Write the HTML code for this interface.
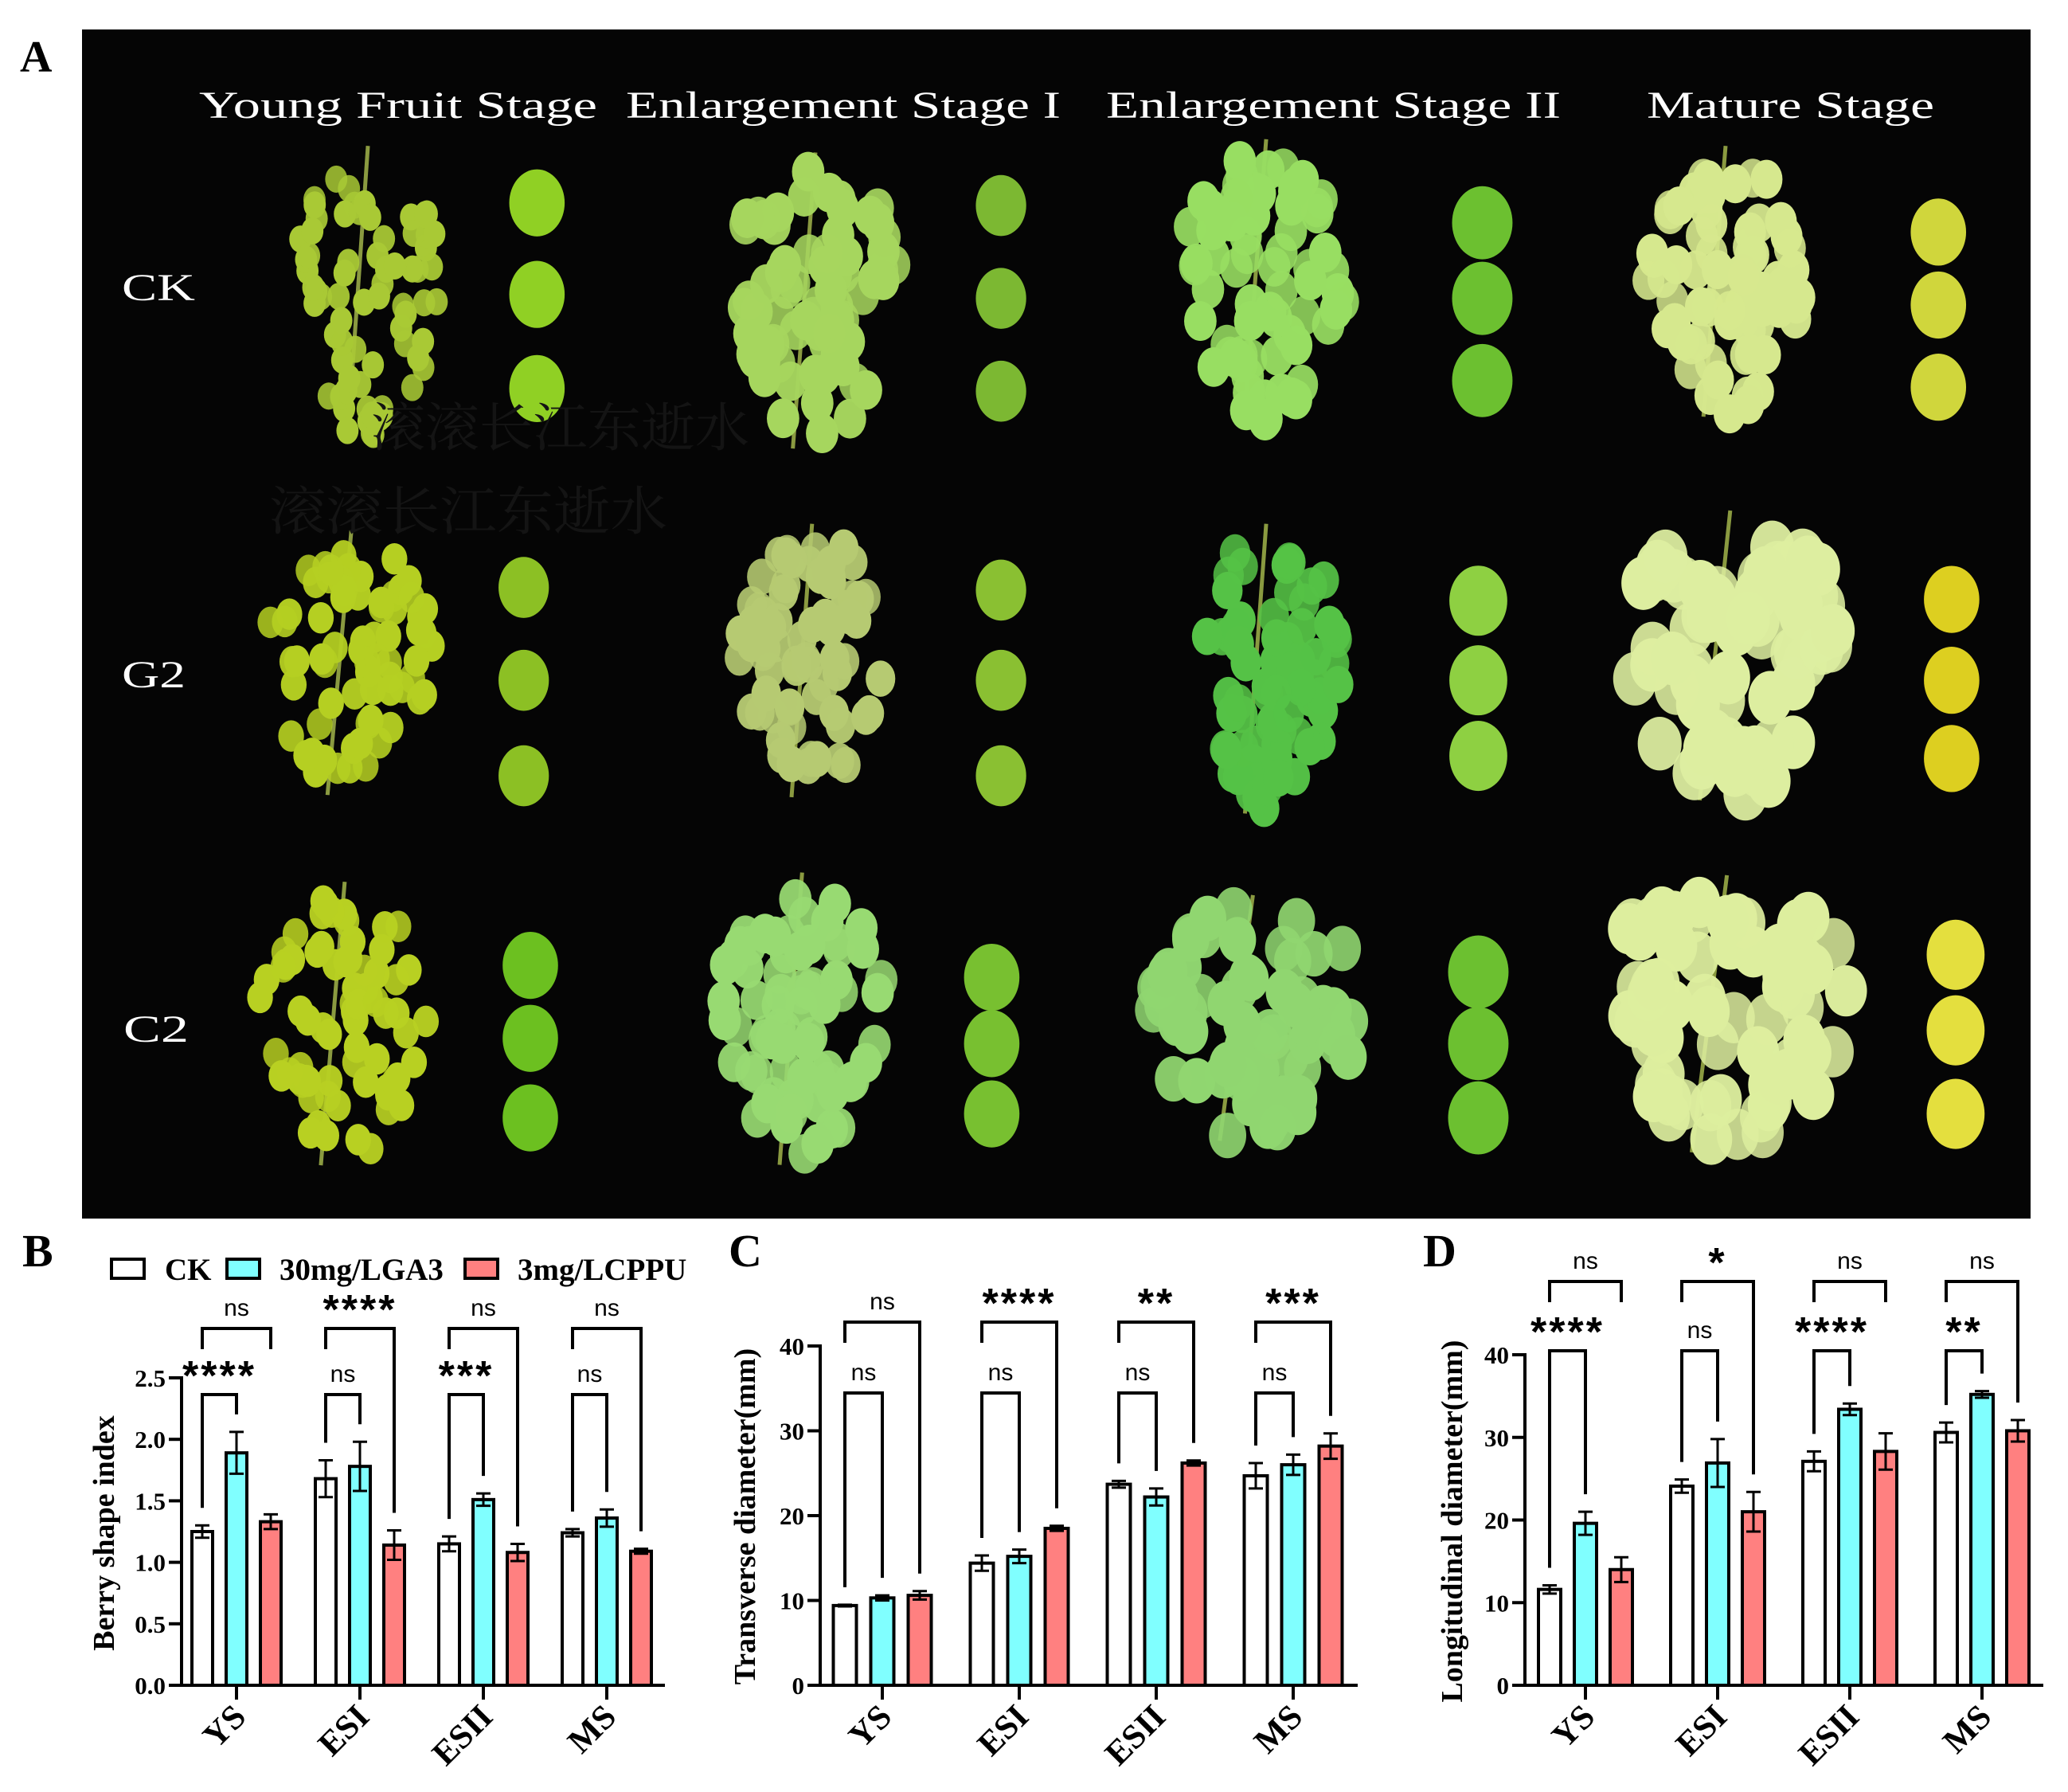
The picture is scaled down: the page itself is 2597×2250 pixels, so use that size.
<!DOCTYPE html>
<html><head><meta charset="utf-8">
<style>
html,body{margin:0;padding:0;background:#fff;}
svg{display:block;}
.tnr{font-family:"Liberation Serif",serif;font-weight:bold;}
.sans{font-family:"Liberation Sans",sans-serif;}
</style></head>
<body>
<svg id="fig" width="2597" height="2250" viewBox="0 0 2597 2250" xmlns="http://www.w3.org/2000/svg">
  <rect x="0" y="0" width="2597" height="2250" fill="#fff"/>
  <text x="25" y="90" class="tnr" font-size="56">A</text>
  <rect x="103" y="37" width="2447" height="1493" fill="#050505"/>
  <g id="photos"></g>
  <g fill="#fff" font-family="Liberation Serif, serif" font-size="48">
    <text x="250" y="148" textLength="500" lengthAdjust="spacingAndGlyphs">Young Fruit Stage</text>
    <text x="786" y="148" textLength="546" lengthAdjust="spacingAndGlyphs">Enlargement Stage I</text>
    <text x="1389" y="148" textLength="571" lengthAdjust="spacingAndGlyphs">Enlargement Stage II</text>
    <text x="2068" y="148" textLength="361" lengthAdjust="spacingAndGlyphs">Mature Stage</text>
    <text x="153" y="377" textLength="92" lengthAdjust="spacingAndGlyphs">CK</text>
    <text x="153" y="863" textLength="80" lengthAdjust="spacingAndGlyphs">G2</text>
    <text x="155" y="1308" textLength="82" lengthAdjust="spacingAndGlyphs">C2</text>
  </g>
  <g fill="#141414" font-family="Liberation Serif, 'Noto Serif CJK SC', serif" font-size="66">
    <text x="466" y="560" textLength="475" lengthAdjust="spacingAndGlyphs">滚滚长江东逝水</text>
    <text x="338" y="665" textLength="500" lengthAdjust="spacingAndGlyphs">滚滚长江东逝水</text>
  </g>
  <g id="charts"></g>
</svg>
<script>
// ---------- chart data ----------
const categories = ["YS","ESI","ESII","MS"];
const seriesNames = ["CK","30mg/LGA3","3mg/LCPPU"];
const seriesColors = ["#ffffff","#80ffff","#ff8080"];

const shapeCK = [1.25,1.68,1.15,1.24];
const shapeCKErr = [0.05,0.15,0.06,0.03];
const shapeGA = [1.89,1.78,1.51,1.36];
const shapeGAErr = [0.17,0.20,0.05,0.07];
const shapeCP = [1.33,1.14,1.08,1.09];
const shapeCPErr = [0.06,0.12,0.07,0.02];
const shapeTicks = [0,0.5,1.0,1.5,2.0,2.5];
const shapeTickLabels = ["0.0","0.5","1.0","1.5","2.0","2.5"];
const shapeTopSig = ["ns","****","ns","ns"];
const shapeLowSig = ["****","ns","***","ns"];
const shapeRightLong = [false,true,true,true];

const transCK = [9.4,14.4,23.7,24.7];
const transCKErr = [0.1,0.9,0.4,1.5];
const transGA = [10.3,15.2,22.2,26.0];
const transGAErr = [0.3,0.8,1.0,1.2];
const transCP = [10.6,18.5,26.2,28.2];
const transCPErr = [0.5,0.3,0.3,1.5];
const transTicks = [0,10,20,30,40];
const transTickLabels = ["0","10","20","30","40"];
const transTopSig = ["ns","****","**","***"];
const transLowSig = ["ns","ns","ns","ns"];
const transRightLong = [true,true,true,true];

const longCK = [11.6,24.1,27.1,30.6];
const longCKErr = [0.5,0.8,1.2,1.2];
const longGA = [19.6,26.9,33.4,35.2];
const longGAErr = [1.4,2.9,0.7,0.4];
const longCP = [14.0,21.0,28.3,30.8];
const longCPErr = [1.5,2.4,2.2,1.3];
const longTicks = [0,10,20,30,40];
const longTickLabels = ["0","10","20","30","40"];
const longTopSig = ["ns","*","ns","ns"];
const longLowSig = ["****","ns","****","**"];
const longRightLong = [false,true,false,true];

const NS = "http://www.w3.org/2000/svg";
function mk(tag, attrs, parent){
  const e = document.createElementNS(NS, tag);
  for (const k in attrs) e.setAttribute(k, attrs[k]);
  if (parent) parent.appendChild(e);
  return e;
}

function drawChart(cfg){
  const root = document.getElementById('charts');
  const g = mk('g', {}, root);
  
  
  const yScale = v => cfg.base - v / cfg.maxV * (cfg.base - cfg.topY);
  const xCenter = i => cfg.x0 + i * cfg.gap;
  const ya = mk('line', {x1:cfg.axisX, y1:cfg.topY-2, x2:cfg.axisX, y2:cfg.base+2, stroke:'#000','stroke-width':4}, g);
  
  
  const xa = mk('line', {x1:cfg.axisX-16, y1:cfg.base, x2:cfg.xEnd, y2:cfg.base, stroke:'#000','stroke-width':4}, g);
  
  
  cfg.ticks.forEach((t, i) => {
    const y = yScale(t);
    const tl = mk('line', {x1:cfg.axisX-16, y1:y, x2:cfg.axisX, y2:y, stroke:'#000','stroke-width':4}, g);
    
    
    const tx = mk('text', {x:cfg.axisX-20, y:y+11, 'text-anchor':'end', class:'tnr', 'font-size':31}, g);
    tx.textContent = cfg.tickLabels[i];
    
    
  });
  const yt = mk('text', {x:cfg.ytX, y:cfg.ytY, 'text-anchor':'middle', class:'tnr', 'font-size':38,
    transform:`rotate(-90 ${cfg.ytX} ${cfg.ytY})`}, g);
  yt.textContent = cfg.yTitle;
  
  
  const pl = mk('text', {x:cfg.letterX, y:1590, class:'tnr', 'font-size':58}, g);
  pl.textContent = cfg.letter;
  
  

  const vals = [cfg.ck, cfg.ga, cfg.cp];
  const errs = [cfg.ckE, cfg.gaE, cfg.cpE];
  const offs = [-cfg.off, 0, cfg.off];
  categories.forEach((cat, i) => {
    const cx = xCenter(i);
    const ct = mk('line', {x1:cx, y1:cfg.base, x2:cx, y2:cfg.base+18, stroke:'#000','stroke-width':4}, g);
    
    
    const lx = cx + 14, ly = cfg.base + 42;
    const cl = mk('text', {x:lx, y:ly, 'text-anchor':'end', class:'tnr', 'font-size':43,
      transform:`rotate(-45 ${lx} ${ly})`}, g);
    cl.textContent = cat;
    
    
    const tops = [];
    for (let s = 0; s < 3; s++) {
      const bx = cx + offs[s];
      const v = vals[s][i], e = errs[s][i];
      const y = yScale(v);
      const r = mk('rect', {x:bx - cfg.bw/2, y:y, width:cfg.bw, height:cfg.base - y, fill:seriesColors[s], stroke:'#000','stroke-width':4}, g);
      
      
      const y1 = yScale(v + e), y2 = yScale(v - e);
      const eb = mk('path', {d:`M${bx} ${y1}V${y2}M${bx-9} ${y1}H${bx+9}M${bx-9} ${y2}H${bx+9}`, stroke:'#000','stroke-width':3, fill:'none'}, g);
      
      
      tops.push(y1);
    }
    const lb = cfg.lowY, tb = cfg.topB;
    const xa0 = cx + offs[0], xa1 = cx + offs[1], xa2 = cx + offs[2];
    const lp = mk('path', {d:`M${xa0} ${tops[0]-22}V${lb}H${xa1}V${tops[1]-22}`, stroke:'#000','stroke-width':4, fill:'none'}, g);
    
    
    const rightEnd = cfg.rightLong[i] ? tops[2]-22 : tb + 26;
    const tp = mk('path', {d:`M${xa0} ${tb+26}V${tb}H${xa2}V${rightEnd}`, stroke:'#000','stroke-width':4, fill:'none'}, g);
    
    
    [[cfg.lowSig[i], (xa0+xa1)/2, lb], [cfg.topSig[i], (xa0+xa2)/2, tb]].forEach(([lab, mx, by]) => {
      const star = lab.indexOf('*') >= 0;
      const t = mk('text', star ? {x:mx, y:by-6, 'text-anchor':'middle', class:'sans', 'font-size':52, 'font-weight':'bold', 'letter-spacing':3}
                                : {x:mx, y:by-16, 'text-anchor':'middle', class:'sans', 'font-size':30}, g);
      t.textContent = lab;
      
      
    });
  });
}

drawChart({name:'chart-berry-shape-index', letter:'B', letterX:28, axisX:228, base:2116, topY:1730, maxV:2.5, xEnd:835,
  x0:297, gap:155, off:43, bw:26, ck:shapeCK, ga:shapeGA, cp:shapeCP, ckE:shapeCKErr, gaE:shapeGAErr, cpE:shapeCPErr,
  ticks:shapeTicks, tickLabels:shapeTickLabels, topSig:shapeTopSig, lowSig:shapeLowSig, rightLong:shapeRightLong,
  topB:1668, lowY:1751, yTitle:'Berry shape index', ytX:143, ytY:1925});
drawChart({name:'chart-transverse-diameter', letter:'C', letterX:915, axisX:1030, base:2116, topY:1690, maxV:40, xEnd:1705,
  x0:1108, gap:172, off:47, bw:29, ck:transCK, ga:transGA, cp:transCP, ckE:transCKErr, gaE:transGAErr, cpE:transCPErr,
  ticks:transTicks, tickLabels:transTickLabels, topSig:transTopSig, lowSig:transLowSig, rightLong:transRightLong,
  topB:1660, lowY:1749, yTitle:'Transverse diameter(mm)', ytX:948, ytY:1904});
drawChart({name:'chart-longitudinal-diameter', letter:'D', letterX:1787, axisX:1915, base:2116, topY:1701, maxV:40, xEnd:2566,
  x0:1991, gap:166, off:45, bw:28, ck:longCK, ga:longGA, cp:longCP, ckE:longCKErr, gaE:longGAErr, cpE:longCPErr,
  ticks:longTicks, tickLabels:longTickLabels, topSig:longTopSig, lowSig:longLowSig, rightLong:longRightLong,
  topB:1609, lowY:1696, yTitle:'Longitudinal diameter(mm)', ytX:1836, ytY:1910});

// legend
(function(){
  const root = document.getElementById('charts');
  const lg = mk('g', {}, root);
  
  
  const bx = [140, 285, 584], tx = [207, 351, 650];
  seriesNames.forEach((n, i) => {
    const r = mk('rect', {x:bx[i], y:1581, width:41, height:24, fill:seriesColors[i], stroke:'#000', 'stroke-width':4}, lg);
    
    
    const t = mk('text', {x:tx[i], y:1607, class:'tnr', 'font-size':39}, lg);
    t.textContent = n;
    
    
  });
})();

// ---------- photo decoration (grape clusters) ----------
(function(){
  let seed = 7;
  const rnd = () => { seed = (seed * 16807) % 2147483647; return (seed - 1) / 2147483646; };
  const S = 1.665;
  const p = document.getElementById('photos');
  const clusters = [
    [200,355,110,345,'#a9c935',405,[153,222,293],'#90d024',22],
    [530,700,115,350,'#a6d65e',755,[155,225,295],'#7cb832',20],
    [870,1040,105,335,'#98de62',1118,[168,225,287],'#6cc030',24],
    [1218,1385,110,325,'#d6e88e',1462,[175,230,292],'#d0d63c',22],
    [175,355,400,610,'#b5cf22',395,[443,513,585],'#8cc024',20],
    [535,690,395,612,'#b6ca72',755,[445,513,585],'#8ac032',20],
    [875,1035,395,625,'#55c246',1115,[453,513,570],'#8ed042',23],
    [1190,1420,385,615,'#ddeea0',1472,[452,513,572],'#ddcf20',22],
    [170,350,665,890,'#b8d022',400,[728,783,843],'#6cc020',22],
    [520,690,658,890,'#98da72',748,[737,787,840],'#78c030',22],
    [820,1070,675,870,'#90d670',1115,[733,787,843],'#6cc030',24],
    [1170,1435,660,880,'#ddee9e',1475,[720,777,840],'#e4df3e',23]
  ];
  clusters.forEach((c, k) => {
    const [x0,x1,y0,y1,col,bX,bYs,bCol,bR] = c;
    const cx = (x0+x1)/2*S, cy = (y0+y1)/2*S, hw = (x1-x0)/2*S, hh = (y1-y0)/2*S;
    const g = mk('g', {}, p);
    
    
    mk('path', {d:`M${cx} ${cy-hh}L${cx-hw*0.2} ${cy+hh*0.9}`, stroke:'#8a9a40','stroke-width':5, fill:'none'}, g);
    const n = 70;
    const br = Math.min(hw, hh) * (k % 4 === 0 ? 0.12 : 0.16);
    for (let i = 0; i < n; i++) {
      const a = rnd() * Math.PI * 2, d = Math.sqrt(rnd());
      const yy = cy + Math.sin(a) * d * hh * 0.9;
      const taper = 1 - 0.45 * ((yy - (cy - hh)) / (2 * hh));
      const xx = cx + Math.cos(a) * d * hw * 0.9 * taper;
      const shade = 0.85 + rnd() * 0.25;
      mk('ellipse', {cx:xx, cy:yy, rx:br*0.9, ry:br*1.1, fill:col, opacity:shade.toFixed(2)}, g);
    }
    bYs.forEach(by => {
      const e = mk('ellipse', {cx:bX*S, cy:by*S, rx:bR*S*0.95, ry:bR*S*1.15, fill:bCol}, p);
      
      
    });
  });
})();
</script>
</body></html>
